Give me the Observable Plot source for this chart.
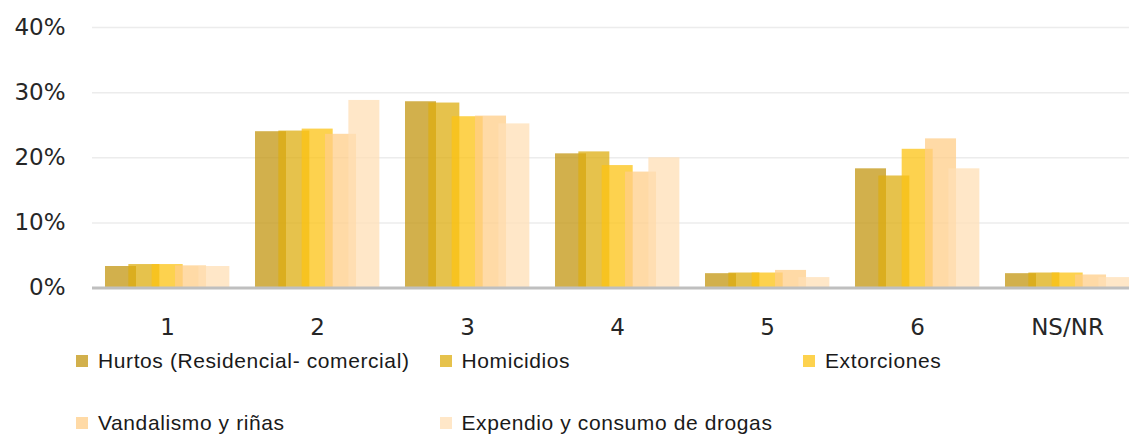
<!DOCTYPE html>
<html>
<head>
<meta charset="utf-8">
<script src="https://cdn.jsdelivr.net/npm/d3@7"></script>
<script src="https://cdn.jsdelivr.net/npm/@observablehq/plot@0.6"></script>
<style>
  html, body { margin: 0; padding: 0; background: #fff; }
  #wrap { position: relative; width: 1129px; height: 437px; overflow: hidden; }
  #chart svg { display: block; overflow: visible; }
  .leg { position: absolute; display: flex; align-items: center; font-family: "Liberation Sans", Arial, sans-serif; font-size: 21px; letter-spacing: 0.6px; color: #1a1a1a; white-space: nowrap; }
  .leg .sw { width: 12px; height: 12px; margin-right: 10px; flex: none; }
</style>
</head>
<body>
<div id="wrap">
  <div id="chart"></div>
  <div id="legend"></div>
</div>
<script>
// ---- data ----
const categories = ["1", "2", "3", "4", "5", "6", "NS/NR"];
const seriesNames = [
  "Hurtos (Residencial- comercial)",
  "Homicidios",
  "Extorciones",
  "Vandalismo y riñas",
  "Expendio y consumo de drogas"
];
const hurtos      = [3.3, 24.0, 28.6, 20.6, 2.2, 18.3, 2.2];
const homicidios  = [3.6, 24.1, 28.4, 20.9, 2.3, 17.2, 2.3];
const extorciones = [3.6, 24.4, 26.3, 18.8, 2.3, 21.3, 2.3];
const vandalismo  = [3.4, 23.6, 26.4, 17.8, 2.7, 22.9, 2.0];
const expendio    = [3.3, 28.8, 25.2, 20.0, 1.6, 18.3, 1.6];
const yTicks = [0, 10, 20, 30, 40];
const seriesColors = ["#C39610", "#DEAE10", "#FCC313", "#FFCE88", "#FFDFB6"];

// ---- layout ----
const seriesValues = [hurtos, homicidios, extorciones, vandalismo, expendio];
const barW = 0.2067, barStep = 0.1556, groupStart = 0.0867;
const rows = [];
seriesValues.forEach((vals, s) => {
  vals.forEach((v, i) => {
    const x1 = i + groupStart + s * barStep;
    rows.push({series: seriesNames[s], cat: categories[i], x1, x2: x1 + barW, value: v});
  });
});

const chart = Plot.plot({
  width: 1129,
  height: 345,
  marginLeft: 92,
  marginRight: 0,
  marginTop: 27,
  marginBottom: 57.5,
  style: {fontFamily: "DejaVu Sans, sans-serif", fontSize: "23px", color: "#262626", background: "#fff"},
  x: {domain: [0, 7], range: [92, 1142]},
  y: {domain: [0, 40], range: [287.5, 27]},
  color: {domain: seriesNames, range: seriesColors},
  marks: [
    Plot.ruleY(yTicks.filter(d => d > 0), {stroke: "#ececec", strokeWidth: 1.5}),
    Plot.rect(rows, {x1: "x1", x2: "x2", y1: 0, y2: "value", fill: "series", fillOpacity: 0.75, inset: 0}),
    Plot.ruleY([0], {stroke: "#bfbfbf", strokeWidth: 3}),
    Plot.axisY({ticks: yTicks, tickFormat: d => d + "%", tickSize: 0, tickPadding: 27, label: null, fontSize: 23}),
    Plot.axisX({ticks: categories.map((c, i) => i + 0.5), tickFormat: d => categories[Math.floor(d)], tickSize: 0, tickPadding: 31, label: null, fontSize: 23})
  ]
});
document.getElementById("chart").appendChild(chart);

// ---- legend ----
const legend = document.getElementById("legend");
const legendPos = [[0, 0], [1, 0], [2, 0], [0, 1], [1, 1]];
seriesNames.forEach((name, s) => {
  const [col, row] = legendPos[s];
  const item = document.createElement("div");
  item.className = "leg";
  item.style.left = (76 + col * 363.5) + "px";
  item.style.top = (row === 0 ? 361 : 423) - 12 + "px";
  item.style.height = "24px";
  const sw = document.createElement("span");
  sw.className = "sw";
  sw.style.background = seriesColors[s];
  sw.style.opacity = 0.75;
  const tx = document.createElement("span");
  tx.textContent = name;
  item.appendChild(sw);
  item.appendChild(tx);
  legend.appendChild(item);
});
</script>
</body>
</html>
